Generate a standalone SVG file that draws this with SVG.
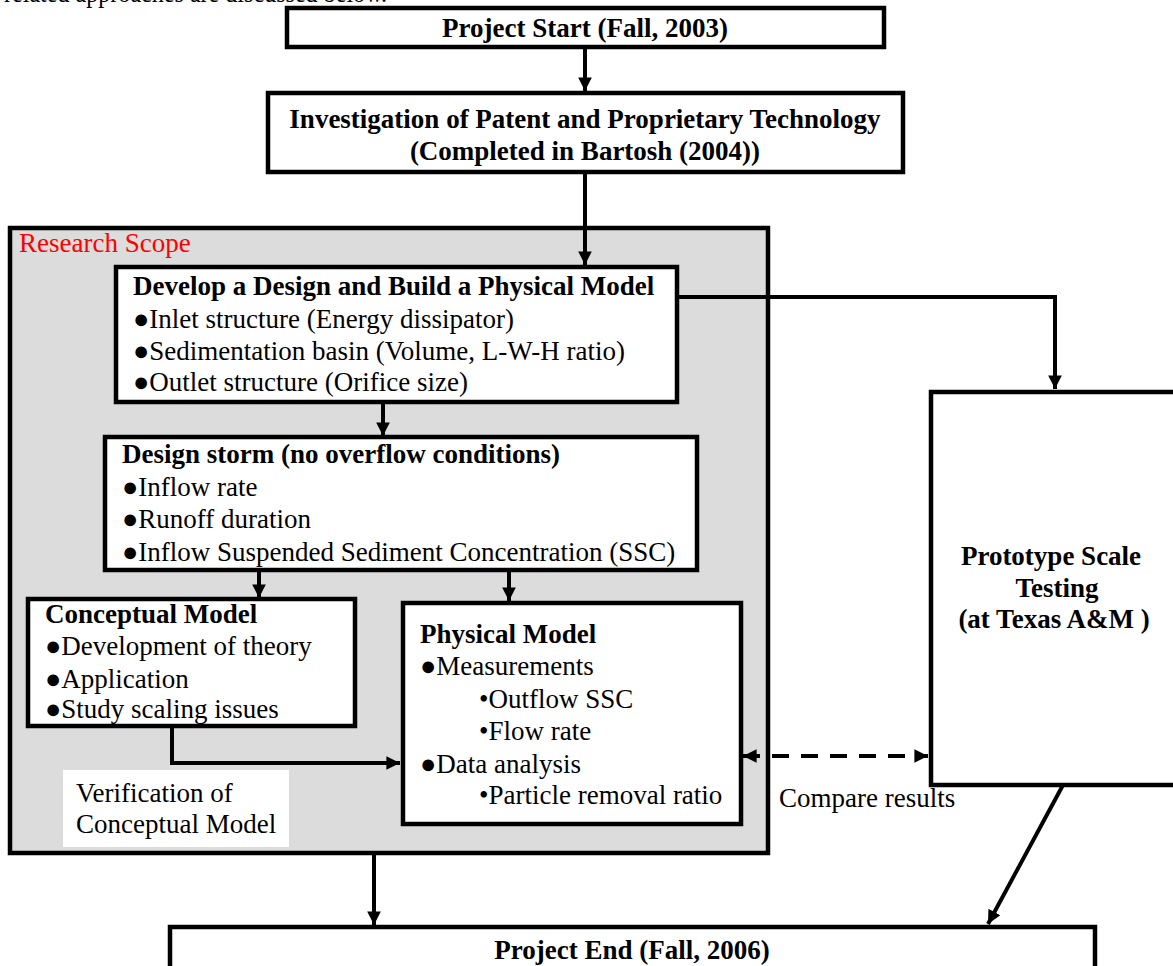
<svg xmlns="http://www.w3.org/2000/svg" width="1173" height="966" viewBox="0 0 1173 966">
<style>
.box{fill:#fff;stroke:#000;stroke-width:4.5}
.t{font-family:'Liberation Serif',serif;font-size:27px;fill:#000}
.b{font-weight:bold}
.c{fill:none;stroke:#000;stroke-width:4}
</style>
<defs>
<marker id="ah" viewBox="0 0 10 10" refX="10" refY="5" markerWidth="3.4" markerHeight="3.4" orient="auto-start-reverse" markerUnits="strokeWidth">
<path d="M0,0 L10,5 L0,10 z" fill="#000"/>
</marker>
</defs>
<rect width="1173" height="966" fill="#fff"/>
<text class="t" x="4" y="2" textLength="383" lengthAdjust="spacingAndGlyphs">related approaches are discussed below.</text>

<g id="research-scope">
<rect x="10" y="228" width="758" height="625" fill="#dcdcdc" stroke="#000" stroke-width="4.5"/>
<text class="t" x="19" y="252" style="fill:#ff0000">Research Scope</text>
</g>

<g id="connectors">
<line class="c" x1="585" y1="47" x2="585" y2="91" marker-end="url(#ah)"/>
<line class="c" x1="585" y1="172" x2="585" y2="265" marker-end="url(#ah)"/>
<polyline class="c" points="678,297 1055,297 1055,389" marker-end="url(#ah)"/>
<line class="c" x1="383" y1="402" x2="383" y2="436" marker-end="url(#ah)"/>
<line class="c" x1="259" y1="570" x2="259" y2="598" marker-end="url(#ah)"/>
<line class="c" x1="509" y1="570" x2="509" y2="601" marker-end="url(#ah)"/>
<polyline class="c" points="172,726 172,763 400,763" marker-end="url(#ah)"/>
<line class="c" x1="743" y1="756" x2="928" y2="756" stroke-dasharray="17,12" marker-start="url(#ah)" marker-end="url(#ah)"/>
<line class="c" x1="1063" y1="785" x2="988" y2="924" marker-end="url(#ah)"/>
<line class="c" x1="374" y1="853" x2="374" y2="925" marker-end="url(#ah)"/>
</g>

<g id="project-start">
<rect class="box" x="287" y="8" width="597" height="39"/>
<text class="t b" x="585" y="37" text-anchor="middle">Project Start (Fall, 2003)</text>
</g>

<g id="investigation">
<rect class="box" x="268" y="93" width="635" height="79"/>
<text class="t b" x="585" y="128" text-anchor="middle">Investigation of Patent and Proprietary Technology</text>
<text class="t b" x="585" y="160" text-anchor="middle">(Completed in Bartosh (2004))</text>
</g>

<g id="develop">
<rect class="box" x="116" y="267" width="561" height="135"/>
<text class="t b" x="133" y="295">Develop a Design and Build a Physical Model</text>
<text class="t" x="133" y="328">●Inlet structure (Energy dissipator)</text>
<text class="t" x="133" y="360">●Sedimentation basin (Volume, L-W-H ratio)</text>
<text class="t" x="133" y="391">●Outlet structure (Orifice size)</text>
</g>

<g id="design-storm">
<rect class="box" x="105" y="437" width="592" height="133"/>
<text class="t b" x="122" y="463">Design storm (no overflow conditions)</text>
<text class="t" x="122" y="496">●Inflow rate</text>
<text class="t" x="122" y="528">●Runoff duration</text>
<text class="t" x="122" y="561">●Inflow Suspended Sediment Concentration (SSC)</text>
</g>

<g id="conceptual-model">
<rect class="box" x="28" y="599" width="327" height="127"/>
<text class="t b" x="45" y="623">Conceptual Model</text>
<text class="t" x="45" y="655">●Development of theory</text>
<text class="t" x="45" y="688">●Application</text>
<text class="t" x="45" y="718">●Study scaling issues</text>
</g>

<g id="physical-model">
<rect class="box" x="403" y="603" width="338" height="221"/>
<text class="t b" x="420" y="643">Physical Model</text>
<text class="t" x="420" y="675">●Measurements</text>
<text class="t" x="479" y="708">•Outflow SSC</text>
<text class="t" x="479" y="740">•Flow rate</text>
<text class="t" x="420" y="773">●Data analysis</text>
<text class="t" x="479" y="804">•Particle removal ratio</text>
</g>

<g id="verification">
<rect x="63" y="770" width="226" height="77" fill="#fff"/>
<text class="t" x="76" y="802">Verification of</text>
<text class="t" x="76" y="833">Conceptual Model</text>
</g>

<g id="prototype">
<rect class="box" x="931" y="392" width="260" height="393"/>
<text class="t b" x="1051" y="565" text-anchor="middle">Prototype Scale</text>
<text class="t b" x="1057" y="597" text-anchor="middle">Testing</text>
<text class="t b" x="1054" y="628" text-anchor="middle">(at Texas A&amp;M )</text>
</g>

<g id="compare-label">
<text class="t" x="779" y="807">Compare results</text>
</g>

<g id="project-end">
<rect class="box" x="170" y="927" width="925" height="60"/>
<text class="t b" x="632" y="959" text-anchor="middle">Project End (Fall, 2006)</text>
</g>
</svg>
